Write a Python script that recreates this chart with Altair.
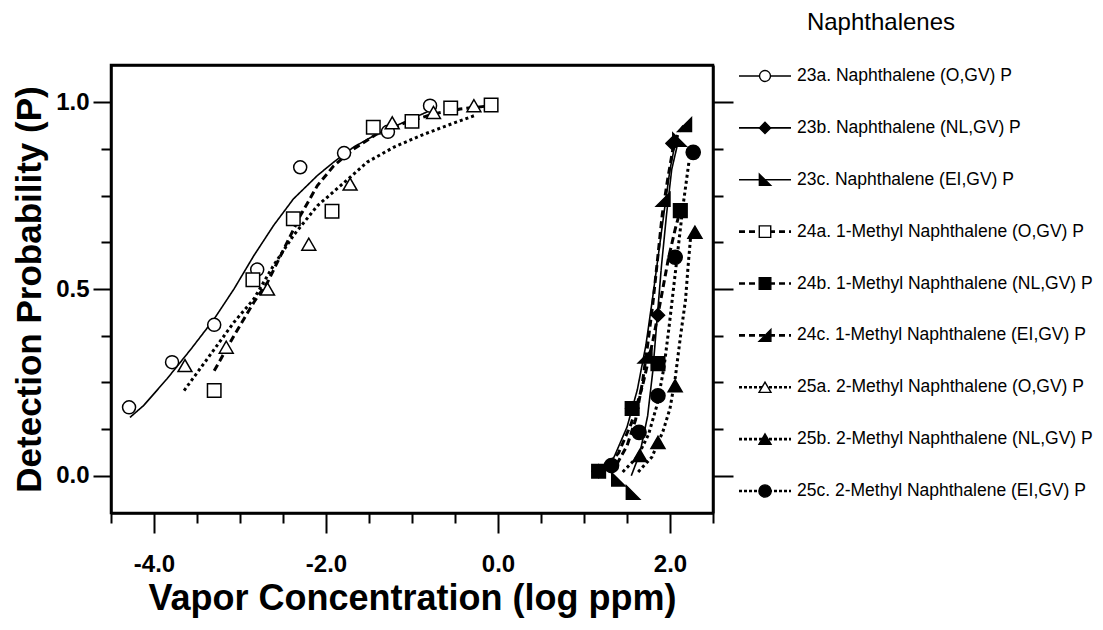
import altair as alt
import pandas as pd

# ---------------- text ----------------
SERIES = [
    "23a. Naphthalene (O,GV) P",
    "23b. Naphthalene (NL,GV) P",
    "23c. Naphthalene (EI,GV) P",
    "24a. 1-Methyl Naphthalene (O,GV) P",
    "24b. 1-Methyl Naphthalene (NL,GV) P",
    "24c. 1-Methyl Naphthalene (EI,GV) P",
    "25a. 2-Methyl Naphthalene (O,GV) P",
    "25b. 2-Methyl Naphthalene (NL,GV) P",
    "25c. 2-Methyl Naphthalene (EI,GV) P",
]
LEGEND_TITLE = "Naphthalenes"
X_TITLE = "Vapor Concentration (log ppm)"
Y_TITLE = "Detection Probability (P)"

# ---------------- observed points ----------------
P23A_X = [-4.29, -3.79, -3.30, -2.80, -2.30, -1.79, -1.28, -0.79]
P23A_Y = [0.183, 0.304, 0.404, 0.552, 0.826, 0.864, 0.921, 0.991]
P23B_X = [1.17, 1.56, 1.86, 2.03]
P23B_Y = [0.012, 0.180, 0.430, 0.890]
P23C_X = [1.40, 1.57, 2.11]
P23C_Y = [-0.010, -0.045, 0.900]
P24A_X = [-3.30, -2.85, -2.38, -1.93, -1.45, -1.00, -0.55, -0.08]
P24A_Y = [0.228, 0.525, 0.688, 0.708, 0.933, 0.949, 0.985, 0.993]
P24B_X = [1.17, 1.56, 1.86, 2.12]
P24B_Y = [0.012, 0.180, 0.300, 0.710]
P24C_X = [1.71, 1.92, 2.17]
P24C_Y = [0.320, 0.740, 0.940]
P25A_X = [-3.64, -3.16, -2.68, -2.20, -1.72, -1.23, -0.75, -0.28]
P25A_Y = [0.295, 0.344, 0.500, 0.620, 0.781, 0.945, 0.973, 0.991]
P25B_X = [1.65, 1.86, 2.06, 2.29]
P25B_Y = [0.054, 0.089, 0.241, 0.652]
P25C_X = [1.32, 1.64, 1.86, 2.06, 2.27]
P25C_Y = [0.027, 0.116, 0.214, 0.585, 0.866]

# ---------------- fitted curves ----------------
C23A_X = [-4.28, -4.12, -3.85, -3.57, -3.30, -3.07, -2.84, -2.61, -2.38, -2.10, -1.91, -1.68, -1.41, -1.14, -0.75]
C23A_Y = [0.156, 0.188, 0.259, 0.339, 0.420, 0.500, 0.589, 0.670, 0.741, 0.804, 0.840, 0.880, 0.915, 0.942, 0.982]
C23B_X = [1.17, 1.35, 1.50, 1.62, 1.72, 1.80, 1.87, 1.94, 2.00, 2.06]
C23B_Y = [0.010, 0.050, 0.130, 0.230, 0.350, 0.480, 0.600, 0.720, 0.820, 0.890]
C23C_X = [1.55, 1.65, 1.74, 1.80, 1.85, 1.90, 1.96, 2.02, 2.10]
C23C_Y = [0.000, 0.060, 0.160, 0.280, 0.420, 0.560, 0.700, 0.820, 0.900]
C24A_X = [-3.30, -3.07, -2.84, -2.68, -2.49, -2.30, -2.10, -1.91, -1.68, -1.41, -1.06, -0.75, -0.44, -0.09]
C24A_Y = [0.281, 0.375, 0.464, 0.518, 0.607, 0.696, 0.777, 0.830, 0.875, 0.915, 0.947, 0.969, 0.982, 0.991]
C24B_X = [1.20, 1.40, 1.55, 1.68, 1.80, 1.90, 1.98, 2.06, 2.13]
C24B_Y = [0.010, 0.060, 0.140, 0.240, 0.360, 0.480, 0.580, 0.660, 0.720]
C24C_X = [1.38, 1.50, 1.60, 1.68, 1.74, 1.80, 1.86, 1.91, 1.97, 2.03, 2.10, 2.17]
C24C_Y = [0.030, 0.080, 0.150, 0.250, 0.350, 0.460, 0.590, 0.700, 0.790, 0.870, 0.920, 0.940]
C25A_X = [-3.65, -3.38, -3.07, -2.84, -2.61, -2.38, -2.10, -1.83, -1.52, -1.21, -0.90, -0.59, -0.28]
C25A_Y = [0.228, 0.313, 0.411, 0.473, 0.563, 0.643, 0.723, 0.777, 0.840, 0.880, 0.911, 0.938, 0.964]
C25B_X = [1.63, 1.79, 1.92, 2.00, 2.06, 2.12, 2.18, 2.21, 2.24]
C25B_Y = [0.010, 0.050, 0.120, 0.180, 0.260, 0.370, 0.470, 0.560, 0.640]
C25C_X = [1.45, 1.62, 1.75, 1.85, 1.93, 1.99, 2.04, 2.09, 2.15, 2.22]
C25C_Y = [0.010, 0.050, 0.110, 0.190, 0.290, 0.400, 0.500, 0.600, 0.720, 0.840]

POINTS = [(P23A_X, P23A_Y), (P23B_X, P23B_Y), (P23C_X, P23C_Y),
          (P24A_X, P24A_Y), (P24B_X, P24B_Y), (P24C_X, P24C_Y),
          (P25A_X, P25A_Y), (P25B_X, P25B_Y), (P25C_X, P25C_Y)]
CURVES = [(C23A_X, C23A_Y), (C23B_X, C23B_Y), (C23C_X, C23C_Y),
          (C24A_X, C24A_Y), (C24B_X, C24B_Y), (C24C_X, C24C_Y),
          (C25A_X, C25A_Y), (C25B_X, C25B_Y), (C25C_X, C25C_Y)]

pt_rows = []
for s, (xs, ys) in zip(SERIES, POINTS):
    for x, y in zip(xs, ys):
        pt_rows.append({"series": s, "x": x, "y": y})
pts_df = pd.DataFrame(pt_rows)

cv_rows = []
for s, (xs, ys) in zip(SERIES, CURVES):
    for i, (x, y) in enumerate(zip(xs, ys)):
        cv_rows.append({"series": s, "x": x, "y": y, "i": i})
curve_df = pd.DataFrame(cv_rows)

leg_df = pd.DataFrame({"series": SERIES})
title_df = pd.DataFrame({"t": [LEGEND_TITLE]})

# ---------------- styling ----------------
FONT = "Liberation Sans, Arial, Helvetica, sans-serif"
W, H = 602, 448
LEFT, TOP = 111, 65
XDOM = [-4.5, 2.5]
YDOM = [-0.1, 1.1]
XTICKS = [-4.5 + 0.5 * i for i in range(15)]
YTICKS = [0.125 * i for i in range(9)]

SHAPES = ["circle", "diamond", "M-1,-1L-1,1L1,1Z",
          "square", "square", "M1,-1L1,1L-1,1Z",
          "triangle-up", "triangle-up", "circle"]
FILLS = ["white", "black", "black", "white", "black", "black", "white", "black", "black"]
SIZES = [170, 200, 210, 150, 150, 210, 230, 230, 170]
LEG_SIZES = [120, 150, 170, 110, 110, 170, 170, 170, 130]
# line style groups: solid (23x), dashed (24x), dotted (25x)
GROUPS = [SERIES[0:3], SERIES[3:6], SERIES[6:9]]
GROUP_DASH = [[1, 0], [7, 4], [3, 3]]
GROUP_WIDTH = [1.6, 3, 3]
LEG_DASH = [[1, 0], [6, 4], [3, 2]]

xscale = alt.Scale(domain=XDOM, nice=False, zero=False)
yscale = alt.Scale(domain=YDOM, nice=False, zero=False)

shape_enc = alt.Shape("series:N", scale=alt.Scale(domain=SERIES, range=SHAPES), legend=None)
fill_enc = alt.Fill("series:N", scale=alt.Scale(domain=SERIES, range=FILLS), legend=None)

FRAME = dict(domain=True, domainColor="black", domainWidth=2.5, grid=False)

x_axis = alt.Axis(
    orient="bottom", values=XTICKS, title=X_TITLE, **FRAME,
    tickColor="black", tickWidth=2,
    tickSize={"condition": {"test": "datum.value % 2 === 0", "value": 20}, "value": 10},
    labelExpr="datum.value % 2 === 0 ? (datum.value < 0 ? '-' : '') + format(abs(datum.value), '.1f') : ''",
    labelFont=FONT, labelFontSize=24, labelFontWeight="bold", labelColor="black",
    labelPadding=19, labelFlush=False, labelOverlap=False,
    titleFont=FONT, titleFontSize=36, titleFontWeight="bold", titleColor="black", titlePadding=5,
)
x_axis_top = alt.Axis(orient="top", title=None, labels=False, ticks=False, **FRAME)
y_axis_left = alt.Axis(
    orient="left", values=YTICKS, title=Y_TITLE, **FRAME,
    tickColor="black", tickWidth=2,
    tickSize={"condition": {"test": "datum.value % 0.5 === 0", "value": 18}, "value": 10},
    labelExpr="datum.value % 0.5 === 0 ? format(datum.value, '.1f') : ''",
    labelFont=FONT, labelFontSize=24, labelFontWeight="bold", labelColor="black",
    labelPadding=4, labelFlush=False, labelOverlap=False,
    titleFont=FONT, titleFontSize=35, titleFontWeight="bold", titleColor="black", titlePadding=8,
)
y_axis_right = alt.Axis(
    orient="right", values=YTICKS, title=None, labels=False, **FRAME,
    tickColor="black", tickWidth=2,
    tickSize={"condition": {"test": "datum.value % 0.5 === 0", "value": 20}, "value": 10},
)

line_layers = []
for g, (members, dash, wid) in enumerate(zip(GROUPS, GROUP_DASH, GROUP_WIDTH)):
    line_layers.append(
        alt.Chart(curve_df).transform_filter(
            alt.FieldOneOfPredicate(field="series", oneOf=members)
        ).mark_line(color="black", strokeCap="butt", strokeDash=dash, strokeWidth=wid).encode(
            x=alt.X("x:Q", scale=xscale, axis=x_axis if g == 0 else None),
            y=alt.Y("y:Q", scale=yscale, axis=y_axis_left if g == 0 else None),
            detail="series:N",
            order="i:Q",
        )
    )

points = alt.Chart(pts_df).mark_point(filled=True, stroke="black", strokeWidth=1.5, opacity=1).encode(
    x=alt.X("x:Q", scale=xscale, axis=x_axis_top),
    y=alt.Y("y:Q", scale=yscale, axis=y_axis_right),
    shape=shape_enc,
    fill=fill_enc,
    size=alt.Size("series:N", scale=alt.Scale(domain=SERIES, range=SIZES), legend=None),
)

leg_y = alt.Y("series:N", scale=alt.Scale(type="point", domain=SERIES, range=[11, 426], padding=0), axis=None)

leg_line_layers = []
for members, dash, wid in zip(GROUPS, LEG_DASH, GROUP_WIDTH):
    leg_line_layers.append(
        alt.Chart(leg_df).transform_filter(
            alt.FieldOneOfPredicate(field="series", oneOf=members)
        ).mark_rule(color="black", strokeCap="butt", strokeDash=dash, strokeWidth=min(wid, 2.6)).encode(
            y=leg_y, x=alt.value(628), x2=alt.value(680),
        )
    )
leg_marks = alt.Chart(leg_df).mark_point(filled=True, stroke="black", strokeWidth=1.4, opacity=1).encode(
    y=leg_y, x=alt.value(654), shape=shape_enc, fill=fill_enc,
    size=alt.Size("series:N", scale=alt.Scale(domain=SERIES, range=LEG_SIZES), legend=None),
)
leg_text = alt.Chart(leg_df).mark_text(align="left", baseline="middle", font=FONT, fontSize=17.5, color="black").encode(
    y=leg_y, x=alt.value(686), text="series:N",
)
leg_title = alt.Chart(title_df).mark_text(align="center", baseline="middle", font=FONT, fontSize=24, color="black").encode(
    x=alt.value(770), y=alt.value(-42), text="t:N",
)

chart = alt.layer(*line_layers, points, *leg_line_layers, leg_marks, leg_text, leg_title).resolve_scale(
    y="independent", size="independent"
).resolve_axis(
    x="independent", y="independent"
).properties(
    width=W, height=H,
    view=alt.ViewBackground(stroke="black", strokeWidth=2.5),
    padding={"left": LEFT, "top": TOP, "right": 1103 - LEFT - W, "bottom": 630 - TOP - H},
    autosize=alt.AutoSizeParams(type="none"),
).configure(background="white")

chart.save("out.html", embed_options={"renderer": "svg", "actions": False})
